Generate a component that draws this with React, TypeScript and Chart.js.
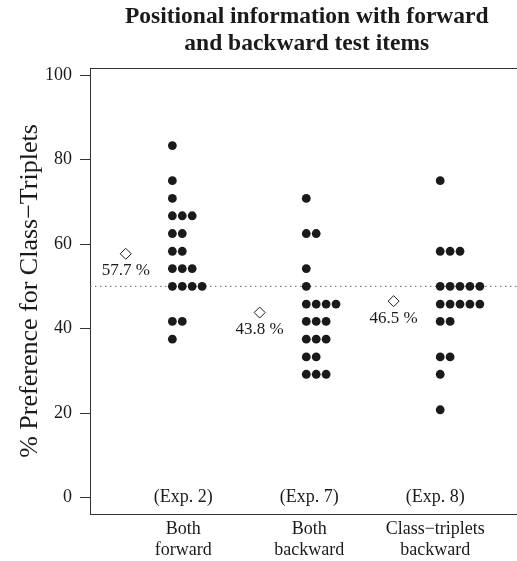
import React, { useEffect, useRef } from "react";
import { Chart, registerables } from "chart.js";

Chart.register(...registerables);

// ---------- data ----------
const categories = [
  ["Both", "forward"],
  ["Both", "backward"],
  ["Class\u2212triplets", "backward"],
];
const experimentLabels = ["(Exp. 2)", "(Exp. 7)", "(Exp. 8)"];
const bothForward = [
  83.3, 75, 70.8, 66.7, 66.7, 66.7, 62.5, 62.5, 58.3, 58.3, 54.2, 54.2, 54.2,
  50, 50, 50, 50, 41.7, 41.7, 37.5,
];
const bothBackward = [
  70.8, 62.5, 62.5, 54.2, 50, 45.8, 45.8, 45.8, 45.8, 41.7, 41.7, 41.7, 37.5,
  37.5, 37.5, 33.3, 33.3, 29.2, 29.2, 29.2,
];
const classTripletsBackward = [
  75, 58.3, 58.3, 58.3, 50, 50, 50, 50, 50, 45.8, 45.8, 45.8, 45.8, 45.8, 41.7,
  41.7, 33.3, 33.3, 29.2, 20.8,
];
const meanPercent = [57.7, 43.8, 46.5];
const yTickValues = [0, 20, 40, 60, 80, 100];
const chanceLevel = 50;
const titleLines = ["Positional information with forward", "and backward test items"];
const yAxisTitle = "% Preference for Class\u2212Triplets";

// ---------- layout constants ----------
const X_MIN = 0.385;
const X_MAX = 3.622;
const Y_MIN = -3.86;
const Y_MAX = 101.66;
const groupX = [1, 2, 3];
const labelX = [1.081, 2.022, 2.963];
const stackStep = 0.074;
const meanOffset = -0.348;
const FONT = '"Liberation Serif", "Times New Roman", "DejaVu Serif", serif';
const INK = "#1a1a1a";

const groups = [bothForward, bothBackward, classTripletsBackward];

function stackedPoints() {
  const pts: { x: number; y: number }[] = [];
  groups.forEach((vals, g) => {
    const seen = new Map<number, number>();
    vals.forEach((v) => {
      const j = seen.get(v) ?? 0;
      seen.set(v, j + 1);
      pts.push({ x: groupX[g] + j * stackStep, y: v });
    });
  });
  return pts;
}

const annotationPlugin = {
  id: "annotations",
  beforeDatasetsDraw(chart: any) {
    const { ctx, chartArea: a } = chart;
    ctx.save();
    ctx.strokeStyle = "#333";
    ctx.lineWidth = 1;
    ctx.strokeRect(
      Math.round(a.left) + 0.5,
      Math.round(a.top) + 0.5,
      Math.round(a.right - a.left),
      Math.round(a.bottom - a.top)
    );
    ctx.restore();
  },
  afterDraw(chart: any) {
    const { ctx, chartArea: a } = chart;
    const xs = chart.scales.x;
    const ys = chart.scales.y;
    ctx.save();
    ctx.fillStyle = INK;
    ctx.textAlign = "center";
    ctx.textBaseline = "middle";
    // title
    ctx.font = `bold 23.5px ${FONT}`;
    const cx = (a.left + a.right) / 2;
    titleLines.forEach((t, i) => ctx.fillText(t, cx, 17 + i * 27));
    // experiment labels
    ctx.font = `18px ${FONT}`;
    experimentLabels.forEach((t, i) =>
      ctx.fillText(t, xs.getPixelForValue(labelX[i]), ys.getPixelForValue(0))
    );
    // mean labels
    ctx.font = `17px ${FONT}`;
    meanPercent.forEach((m, i) =>
      ctx.fillText(
        `${m.toFixed(1)} %`,
        xs.getPixelForValue(groupX[i] + meanOffset),
        ys.getPixelForValue(m) + 17
      )
    );
    ctx.restore();
  },
};

export default function App() {
  const ref = useRef<HTMLCanvasElement | null>(null);
  useEffect(() => {
    if (!ref.current) return;
    const chart = new Chart(ref.current, {
      type: "scatter",
      data: {
        datasets: [
          {
            label: "participants",
            data: stackedPoints(),
            pointStyle: "circle",
            pointRadius: 4.4,
            pointBackgroundColor: INK,
            pointBorderWidth: 0,
            order: 1,
          },
          {
            label: "means",
            data: meanPercent.map((m, i) => ({ x: groupX[i] + meanOffset, y: m })),
            pointStyle: "rectRot",
            pointRadius: 5.5,
            pointBackgroundColor: "#fff",
            pointBorderColor: INK,
            pointBorderWidth: 1,
            order: 2,
          },
          {
            type: "line",
            label: "chance",
            data: [
              { x: X_MIN, y: chanceLevel },
              { x: X_MAX, y: chanceLevel },
            ],
            borderColor: "#666",
            borderWidth: 1,
            borderDash: [1.5, 3.5],
            pointRadius: 0,
            order: 3,
          } as any,
        ],
      },
      options: {
        responsive: false,
        animation: false,
        layout: { padding: { top: 68, right: 3, left: 0, bottom: 0 } },
        plugins: {
          legend: { display: false },
          tooltip: { enabled: false },
          title: { display: false },
        },
        scales: {
          x: {
            type: "linear",
            min: X_MIN,
            max: X_MAX,
            afterBuildTicks: (s: any) => {
              s.ticks = labelX.map((v) => ({ value: v }));
            },
            afterFit: (s: any) => {
              s.height = 47;
            },
            grid: { display: false, drawTicks: false },
            border: { display: false },
            ticks: {
              autoSkip: false,
              maxRotation: 0,
              padding: 5,
              color: INK,
              font: { family: FONT, size: 18, lineHeight: 1.17 },
              callback: (v: any) => {
                const i = labelX.indexOf(Number(v));
                return i >= 0 ? categories[i] : "";
              },
            },
          },
          y: {
            type: "linear",
            min: Y_MIN,
            max: Y_MAX,
            afterBuildTicks: (s: any) => {
              s.ticks = yTickValues.map((v) => ({ value: v }));
            },
            afterFit: (s: any) => {
              s.width = 90;
            },
            grid: {
              drawOnChartArea: false,
              drawTicks: true,
              tickLength: 10,
              tickColor: "#333",
              tickWidth: 1,
            },
            border: { display: false },
            ticks: {
              padding: 8,
              color: INK,
              font: { family: FONT, size: 18 },
              callback: (v: any) => String(v),
            },
            title: {
              display: true,
              text: yAxisTitle,
              color: INK,
              font: { family: FONT, size: 26 },
              padding: { top: 15, bottom: 0 },
            },
          },
        },
      },
      plugins: [annotationPlugin],
    });
    return () => chart.destroy();
  }, []);

  return (
    <div
      style={{
        position: "absolute",
        left: 0,
        top: 0,
        width: 517,
        height: 561,
        overflow: "hidden",
        background: "#fff",
      }}
    >
      <canvas ref={ref} width={530} height={561} style={{ display: "block" }} />
    </div>
  );
}
